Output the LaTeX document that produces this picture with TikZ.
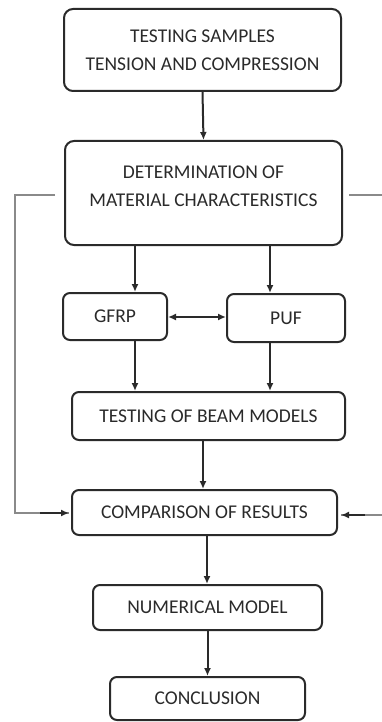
\documentclass[tikz,border=0pt]{standalone}
\usepackage{fontspec}
\setmainfont{Carlito}
\usetikzlibrary{arrows.meta}
\definecolor{ink}{HTML}{2A2A2A}
\definecolor{wire}{HTML}{8A8A8A}
\begin{document}
\begin{tikzpicture}[x=1pt,y=-1pt,
  every node/.style={font=\fontsize{19.5}{28}\selectfont, text=ink},
  box/.style={draw=ink, line width=2pt, rounded corners=9pt, inner sep=0pt, align=center},
  smallbox/.style={box, rounded corners=7pt},
  tip/.style={-{Latex[length=8pt,width=7pt]}},
  flow/.style={draw=ink, line width=2pt, tip},
  both/.style={draw=ink, line width=2pt, {Latex[length=8pt,width=7pt]}-{Latex[length=8pt,width=7pt]}},
  loop/.style={draw=wire, line width=1.6pt}]
\useasboundingbox (0,0) rectangle (382,722);
\clip (0,0) rectangle (382,722);

% process boxes
\node[box, minimum width=277pt, minimum height=82pt] (samples) at (202.5,50)
  {TESTING SAMPLES\\TENSION AND COMPRESSION};
\node[box, minimum width=277pt, minimum height=104pt] (charac) at (203.5,193) {};
\node[align=center] (charactext) at (203.5,186) {DETERMINATION OF\\MATERIAL CHARACTERISTICS};
\node[smallbox, minimum width=104pt, minimum height=47pt] (gfrp) at (115,316.5) {GFRP};
\node[smallbox, minimum width=118pt, minimum height=48pt] (puf) at (286,318) {PUF};
\node[smallbox, minimum width=273pt, minimum height=48pt] (beam) at (208.5,416) {TESTING OF BEAM MODELS};
\node[smallbox, minimum width=265pt, minimum height=45pt] (compare) at (204.5,512.5) {COMPARISON OF RESULTS};
\node[smallbox, minimum width=229pt, minimum height=45pt] (numeric) at (207.5,607.5) {NUMERICAL MODEL};
\node[smallbox, minimum width=195pt, minimum height=43pt] (concl) at (207.5,698.5) {CONCLUSION};

% main flow
\draw[flow] (samples.south) -- (charac.north);
\draw[flow] (charac.south -| 135,0) -- (gfrp.north -| 135,0);
\draw[flow] (charac.south -| 270,0) -- (puf.north -| 270,0);
\draw[both] (gfrp.east |- 0,317) -- (puf.west |- 0,317);
\draw[flow] (gfrp.south -| 135,0) -- (beam.north -| 135,0);
\draw[flow] (puf.south -| 270,0) -- (beam.north -| 270,0);
\draw[flow] (beam.south -| 203,0) -- (compare.north -| 203,0);
\draw[flow] (compare.south -| 207,0) -- (numeric.north -| 207,0);
\draw[flow] (numeric.south) -- (concl.north);

% feedback lines into the comparison box
\coordinate (lstart) at ([xshift=-9pt]charac.west |- 0,195);
\coordinate (lcorner) at (15,195);
\coordinate (rstart) at ([xshift=6pt]charac.east |- 0,195);
\coordinate (rcorner) at (392,195);
\draw[loop] (lstart) -- (lcorner) |- ([xshift=-2pt]compare.west |- 0,513);
\draw[draw=ink, line width=1.6pt, tip] (40,513) -- ([xshift=-2pt]compare.west |- 0,513);
\draw[loop] (rstart) -- (rcorner) |- ([xshift=3pt]compare.east |- 0,515);
\draw[draw=ink, line width=1.6pt, tip] (365,515) -- ([xshift=3pt]compare.east |- 0,515);
\end{tikzpicture}
\end{document}
